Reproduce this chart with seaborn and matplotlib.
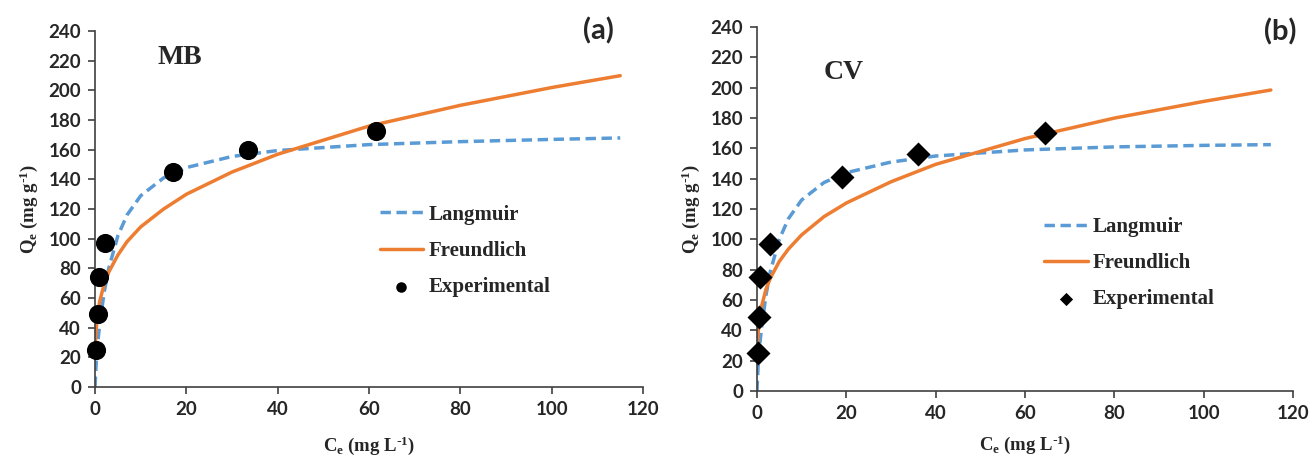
import numpy as np
import pandas as pd
import matplotlib
matplotlib.use("Agg")
import matplotlib.pyplot as plt
import seaborn as sns

# Experimental points
mb_ce = [0.3, 0.6, 0.8, 2.2, 17.0, 33.5, 61.5]
mb_qe = [25, 49, 74, 97, 145, 160, 173]
cv_ce = [0.2, 0.5, 0.6, 3.0, 19.0, 36.0, 64.5]
cv_qe = [25, 49, 75, 97, 141, 156, 170]

# Model curves
curve_ce = [0, 0.1, 0.25, 0.5, 1, 2, 3, 5, 7, 10, 15, 20, 30, 40, 60, 80, 100, 115]
mb_langmuir = [0, 7, 16, 27, 42, 64, 80, 102, 116, 129, 141, 148, 155.5, 159.5, 163.5, 165.5, 167, 168]
mb_freundlich = [26, 30.5, 39, 47.5, 57.5, 69.5, 77.5, 89, 98, 108, 120, 130, 145, 157, 176, 190, 202, 210]
cv_langmuir = [0, 7, 16, 27, 41, 63, 79, 100, 113.5, 126, 137.5, 144, 151, 155, 159, 161, 162, 162.5]
cv_freundlich = [26, 30, 38.5, 46, 55.5, 67, 74.5, 85.5, 93.5, 103, 115, 124, 138, 149.5, 166.5, 180, 191, 198.5]

panels = [
    ("MB", "(a)", mb_ce, mb_qe, mb_langmuir, mb_freundlich, "o"),
    ("CV", "(b)", cv_ce, cv_qe, cv_langmuir, cv_freundlich, "D"),
]

sns.set_style("ticks")
plt.rcParams["mathtext.default"] = "regular"
plt.rcParams["axes.unicode_minus"] = False
tick_font = "Lato"
serif = "Liberation Serif"

fig = plt.figure(figsize=(13.11, 4.59), dpi=100)
rects = [[0.0725, 0.157, 0.418, 0.775], [0.5774, 0.148, 0.409, 0.793]]
name_pos = [(0.155, 0.925), (0.161, 0.876)]
tag_pos = [(0.918, 1.0), (0.975, 0.986)]
leg_anchor = [(0.485, 0.565), (0.50, 0.53)]
xpads = [12, 8]

for i, (name, tag, ce, qe, lang, freu, mk) in enumerate(panels):
    ax = fig.add_axes(rects[i])
    curves = pd.DataFrame({
        "Ce": curve_ce * 2,
        "Qe": lang + freu,
        "model": ["Langmuir"] * len(curve_ce) + ["Freundlich"] * len(curve_ce),
    })
    sns.lineplot(data=curves[curves.model == "Langmuir"], x="Ce", y="Qe", ax=ax,
                 color="#5B9BD5", lw=2.5, linestyle=(0, (3, 1.6)), label="Langmuir")
    sns.lineplot(data=curves[curves.model == "Freundlich"], x="Ce", y="Qe", ax=ax,
                 color="#ED7D31", lw=2.5, label="Freundlich")
    sns.scatterplot(x=ce, y=qe, ax=ax, marker=mk, color="black",
                    s=190 if mk == "o" else 150, edgecolor="black", linewidth=0,
                    label="Experimental", zorder=5, clip_on=False)

    ax.set_xlim(0, 120)
    ax.set_ylim(0, 240)
    ax.set_xticks(range(0, 121, 20))
    ax.set_yticks(range(0, 241, 20))
    for lab in ax.get_xticklabels() + ax.get_yticklabels():
        lab.set_fontfamily(tick_font)
        lab.set_fontweight("bold")
        lab.set_fontsize(13.5)
    ax.tick_params(direction="out", length=5, width=1.2, color="#404040", pad=5)
    for side in ["left", "bottom"]:
        ax.spines[side].set_color("#404040")
        ax.spines[side].set_linewidth(1.2)
    sns.despine(ax=ax)

    ax.set_xlabel(r"C$_{e}$ (mg L$^{\text{-}1}$)", fontfamily=serif, fontweight="bold",
                  fontsize=13.5, labelpad=xpads[i])
    ax.set_ylabel(r"Q$_{e}$ (mg g$^{\text{-}1}$)", fontfamily=serif, fontweight="bold",
                  fontsize=13.5, labelpad=6)

    ax.text(*name_pos[i], name, transform=ax.transAxes, ha="center", va="center",
            fontfamily=serif, fontweight="bold", fontsize=20)
    ax.text(*tag_pos[i], tag, transform=ax.transAxes, ha="center", va="center",
            fontfamily=tick_font, fontweight="bold", fontsize=21)

    leg = ax.legend(loc="upper left", bbox_to_anchor=leg_anchor[i], frameon=False,
                    handlelength=2.1, handletextpad=0.25, labelspacing=0.78,
                    markerscale=0.55,
                    prop={"family": serif, "weight": "bold", "size": 15})

fig.savefig("out.png", dpi=100)
